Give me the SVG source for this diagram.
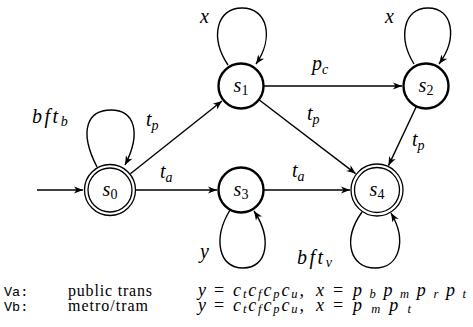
<svg xmlns="http://www.w3.org/2000/svg" width="473" height="327" viewBox="0 0 473 327">
<style>
.st{fill:#fff;stroke:#000;stroke-width:2.4}
.acc{fill:none;stroke:#000;stroke-width:1.3}
.e{fill:none;stroke:#000;stroke-width:1.4;marker-end:url(#ah)}
</style>
<defs>
<marker id="ah" markerUnits="userSpaceOnUse" markerWidth="12" markerHeight="10" viewBox="-10 -5 12 10" refX="0" refY="0" orient="auto">
<path d="M0,0 L-9,-3.6 L-6.5,0 L-9,3.6 Z" fill="#000"/>
</marker>
</defs>
<g id="connectors">
<path class="e" d="M37,190 L83,190"/>
<path class="e" d="M97,167 C78,130 88,110 111,110 C134,110 142,132 125,165"/>
<path class="e" d="M228,65 C210,38 216,8 242,8 C268,8 274,38 256,64"/>
<path class="e" d="M414,64 C398,38 403,8 428,8 C453,8 458,38 439,64"/>
<path class="e" d="M230,210 C213,238 218,268 243,268 C268,268 272,238 254,211"/>
<path class="e" d="M362,212 C342,240 350,268 375,268 C400,268 407,240 391,213"/>
<path class="e" d="M130.4,173.8 L222,101"/>
<path class="e" d="M136,190 L217,190"/>
<path class="e" d="M264,190 L350,190"/>
<path class="e" d="M264,86 L402,86"/>
<path class="e" d="M259.3,100 L355.6,173.6"/>
<path class="e" d="M416.2,106.8 L388.5,165.6"/>
</g>
<g id="labels">
<text font-family="Liberation Serif" font-style="italic" font-size="20" x="200" y="23">x</text>
<text font-family="Liberation Serif" font-style="italic" font-size="20" x="385" y="23">x</text>
<text font-family="Liberation Serif" font-style="italic" font-size="20" x="32" y="123" letter-spacing="2.5">bft<tspan font-size="14" dy="3">b</tspan></text>
<text font-family="Liberation Serif" font-style="italic" font-size="20" x="146" y="126">t<tspan font-size="14" dy="4">p</tspan></text>
<text font-family="Liberation Serif" font-style="italic" font-size="20" x="160" y="178">t<tspan font-size="14" dy="4">a</tspan></text>
<text font-family="Liberation Serif" font-style="italic" font-size="20" x="292" y="177">t<tspan font-size="14" dy="4">a</tspan></text>
<text font-family="Liberation Serif" font-style="italic" font-size="20" x="312" y="70">p<tspan font-size="14" dy="4">c</tspan></text>
<text font-family="Liberation Serif" font-style="italic" font-size="20" x="307" y="120">t<tspan font-size="14" dy="4">p</tspan></text>
<text font-family="Liberation Serif" font-style="italic" font-size="20" x="412" y="146">t<tspan font-size="14" dy="4">p</tspan></text>
<text font-family="Liberation Serif" font-style="italic" font-size="20" x="200" y="258">y</text>
<text font-family="Liberation Serif" font-style="italic" font-size="20" x="297" y="264" letter-spacing="2.5">bft<tspan font-size="14" dy="3">v</tspan></text>
</g>
<g id="s0">
<circle class="acc" cx="110" cy="190" r="25.5"/>
<circle class="acc" cx="110" cy="190" r="22"/>
<text font-family="Liberation Serif" font-style="italic" font-size="20" x="110" y="196" text-anchor="middle">s<tspan font-style="normal" font-size="14" dy="3">0</tspan></text>
</g>
<g id="s1">
<circle class="st" cx="241" cy="86" r="22.5"/>
<text font-family="Liberation Serif" font-style="italic" font-size="20" x="241" y="92" text-anchor="middle">s<tspan font-style="normal" font-size="14" dy="3">1</tspan></text>
</g>
<g id="s2">
<circle class="st" cx="426" cy="86" r="22.5"/>
<text font-family="Liberation Serif" font-style="italic" font-size="20" x="426" y="92" text-anchor="middle">s<tspan font-style="normal" font-size="14" dy="3">2</tspan></text>
</g>
<g id="s3">
<circle class="st" cx="241" cy="190" r="22.5"/>
<text font-family="Liberation Serif" font-style="italic" font-size="20" x="241" y="196" text-anchor="middle">s<tspan font-style="normal" font-size="14" dy="3">3</tspan></text>
</g>
<g id="s4">
<circle class="acc" cx="377" cy="190" r="26"/>
<circle class="acc" cx="377" cy="190" r="22.5"/>
<text font-family="Liberation Serif" font-style="italic" font-size="20" x="377" y="196" text-anchor="middle">s<tspan font-style="normal" font-size="14" dy="3">4</tspan></text>
</g>
<g id="legend">
<text font-family="Liberation Mono" font-size="13.5" x="4" y="296">Va:</text>
<text font-family="Liberation Mono" font-size="13.5" x="4" y="311">Vb:</text>
<text font-family="Liberation Serif" font-size="16" x="68" y="296" textLength="84">public trans</text>
<text font-family="Liberation Serif" font-size="16" x="68" y="311" textLength="80">metro/tram</text>
<text font-family="Liberation Serif" font-style="italic" font-size="18" y="296"><tspan x="198">y</tspan><tspan x="214" font-style="normal">=</tspan></text>
<text font-family="Liberation Serif" font-style="italic" font-size="18" x="233" y="296" textLength="71" lengthAdjust="spacing">c<tspan font-size="12.5" dy="2">t</tspan><tspan dy="-2">c</tspan><tspan font-size="12.5" dy="2">f</tspan><tspan dy="-2">c</tspan><tspan font-size="12.5" dy="2">p</tspan><tspan dy="-2">c</tspan><tspan font-size="12.5" dy="2">u</tspan><tspan dy="-2">,</tspan></text>
<text font-family="Liberation Serif" font-style="italic" font-size="18" y="296"><tspan x="316">x</tspan><tspan x="333" font-style="normal">=</tspan></text>
<text font-family="Liberation Serif" font-style="italic" font-size="18" x="353" y="296" textLength="113" lengthAdjust="spacing">p<tspan font-size="12.5" dy="2">b</tspan><tspan dy="-2">p</tspan><tspan font-size="12.5" dy="2">m</tspan><tspan dy="-2">p</tspan><tspan font-size="12.5" dy="2">r</tspan><tspan dy="-2">p</tspan><tspan font-size="12.5" dy="2">t</tspan></text>
<text font-family="Liberation Serif" font-style="italic" font-size="18" y="311"><tspan x="198">y</tspan><tspan x="214" font-style="normal">=</tspan></text>
<text font-family="Liberation Serif" font-style="italic" font-size="18" x="233" y="311" textLength="71" lengthAdjust="spacing">c<tspan font-size="12.5" dy="2">t</tspan><tspan dy="-2">c</tspan><tspan font-size="12.5" dy="2">f</tspan><tspan dy="-2">c</tspan><tspan font-size="12.5" dy="2">p</tspan><tspan dy="-2">c</tspan><tspan font-size="12.5" dy="2">u</tspan><tspan dy="-2">,</tspan></text>
<text font-family="Liberation Serif" font-style="italic" font-size="18" y="311"><tspan x="316">x</tspan><tspan x="333" font-style="normal">=</tspan></text>
<text font-family="Liberation Serif" font-style="italic" font-size="18" x="353" y="311" textLength="58" lengthAdjust="spacing">p<tspan font-size="12.5" dy="2">m</tspan><tspan dy="-2">p</tspan><tspan font-size="12.5" dy="2">t</tspan></text>
</g>
</svg>
